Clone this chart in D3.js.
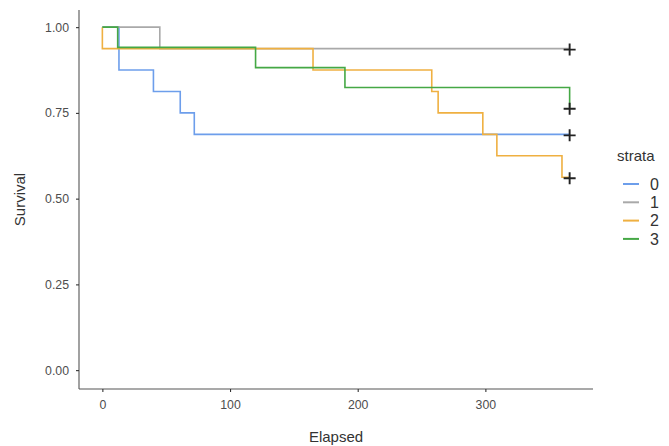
<!DOCTYPE html>
<html>
<head>
<meta charset="utf-8">
<script src="https://cdn.jsdelivr.net/npm/d3@7"></script>
<style>
  body { margin: 0; background: #fff; }
  text { font-family: "Liberation Sans", Arial, sans-serif; }
</style>
</head>
<body>
<div id="km_chart"></div>
<script>
// strata labels and colours
var strata = ["0", "1", "2", "3"];
var colors = ["#6d9eeb", "#a9a9a9", "#efb041", "#45a845"];

// step curves: event times and survival after each step
var times0 = [0, 13, 40, 61, 72, 366];
var surv0 = [1, 0.875, 0.8125, 0.75, 0.6875, 0.6875];
var times1 = [0, 45, 366];
var surv1 = [1, 0.9375, 0.9375];
var times2 = [0, 0, 165, 258, 263, 298, 309, 360, 366];
var surv2 = [1, 0.9375, 0.875, 0.8125, 0.75, 0.6875, 0.625, 0.5625, 0.5625];
var times3 = [0, 12, 120, 190, 366];
var surv3 = [1, 0.941, 0.882, 0.824, 0.765];

// censored points (one per stratum)
var censorTime = [366, 366, 366, 366];
var censorSurv = [0.6875, 0.9375, 0.5625, 0.765];

var xTicks = [0, 100, 200, 300];
var yTicks = [0, 0.25, 0.5, 0.75, 1];

var width = 669, height = 446;
var padding = {left: 79, top: 10, right: 76, bottom: 57};

var svg = d3.select("#km_chart").append("svg")
    .attr("width", width)
    .attr("height", height);

var x = d3.scaleLinear()
    .domain([-18.3, 384.3])
    .range([padding.left, width - padding.right]);
var y = d3.scaleLinear()
    .domain([-0.055, 1.05])
    .range([height - padding.bottom, padding.top]);

var series = [
    {times: times0, surv: surv0},
    {times: times1, surv: surv1},
    {times: times2, surv: surv2},
    {times: times3, surv: surv3}
];

var line = d3.line()
    .x(function(d){ return x(d[0]); })
    .y(function(d){ return y(d[1]); })
    .curve(d3.curveStepAfter);

series.forEach(function(s, i){
    var pts = s.times.map(function(t, j){ return [t, s.surv[j]]; });
    svg.append("path")
        .attr("d", line(pts))
        .attr("fill", "none")
        .attr("stroke", colors[i])
        .attr("stroke-width", 1.6);
});

// censor marks drawn as small crosses
strata.forEach(function(s, i){
    var cx = x(censorTime[i]), cy = y(censorSurv[i]) + 1;
    svg.append("path")
        .attr("d", "M" + (cx - 6) + "," + cy + "H" + (cx + 6) + "M" + cx + "," + (cy - 6) + "V" + (cy + 6))
        .attr("stroke", "#222")
        .attr("stroke-width", 1.9);
});

// axes
var xAxis = d3.axisBottom(x).tickValues(xTicks).tickSize(3).tickPadding(8);
var gx = svg.append("g")
    .attr("transform", "translate(0," + (height - padding.bottom) + ")")
    .call(xAxis);
var yAxis = d3.axisLeft(y).tickValues(yTicks).tickSize(3).tickPadding(7)
    .tickFormat(d3.format(".2f"));
var gy = svg.append("g")
    .attr("transform", "translate(" + padding.left + ",0)")
    .call(yAxis);

[gx, gy].forEach(function(g){
    g.select(".domain").attr("stroke", "#555").attr("stroke-width", 1.1);
    g.selectAll(".tick line").attr("stroke", "#333").attr("stroke-width", 1.1);
    g.selectAll(".tick text").attr("fill", "#4d4d4d").attr("font-size", 12.3)
        .attr("font-family", "Liberation Sans, Arial, sans-serif");
});
gx.select(".domain").attr("d", "M" + padding.left + ",0H" + (width - padding.right));
gy.select(".domain").attr("d", "M0," + padding.top + "V" + (height - padding.bottom));

// axis titles
svg.append("text")
    .attr("x", (padding.left + width - padding.right) / 2)
    .attr("y", 442)
    .attr("text-anchor", "middle")
    .attr("font-size", 15)
    .attr("fill", "#333")
    .text("Elapsed");
svg.append("text")
    .attr("transform", "translate(25," + ((padding.top + height - padding.bottom) / 2) + ") rotate(-90)")
    .attr("text-anchor", "middle")
    .attr("font-size", 15)
    .attr("fill", "#333")
    .text("Survival");

// legend
var legend = svg.append("g").attr("transform", "translate(617,0)");
legend.append("text")
    .attr("x", 0).attr("y", 161)
    .attr("font-size", 15)
    .attr("fill", "#333")
    .text("strata");
strata.forEach(function(s, i){
    var ly = 184 + i * 18.3;
    legend.append("line")
        .attr("x1", 6).attr("x2", 22)
        .attr("y1", ly).attr("y2", ly)
        .attr("stroke", colors[i])
        .attr("stroke-width", 2);
    legend.append("text")
        .attr("x", 33).attr("y", ly)
        .attr("dy", "0.36em")
        .attr("font-size", 16)
        .attr("fill", "#333")
        .text(s);
});
</script>
</body>
</html>
